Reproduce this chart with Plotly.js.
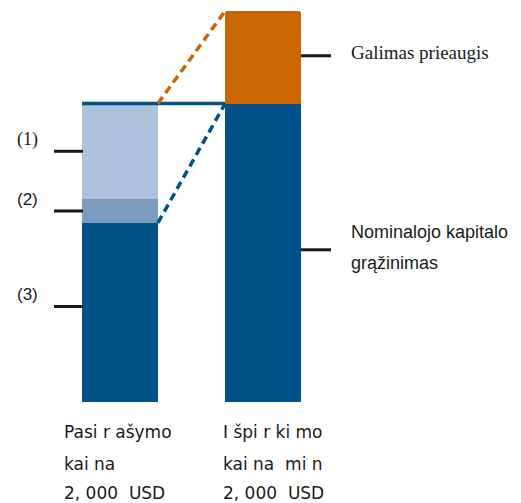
<!DOCTYPE html>
<html>
<head>
<meta charset="utf-8">
<script src="https://cdn.plot.ly/plotly-3.0.1.min.js"></script>
<style>html,body{margin:0;padding:0;background:#fff;}#chart{width:521px;height:503px;}</style>
</head>
<body>
<div id="chart"></div>
<script>
// Bars: index 0 = left (Pasirašymo kaina), index 1 = right (Išpirkimo kaina)
const barPos = [0, 1];
const nominal = [60, 100];   // (3) / Nominalojo kapitalo grąžinimas
const part2 = [8, 0];        // (2)
const part1 = [32, 0];       // (1)
const upside = [0, 31];      // Galimas prieaugis
const leftLabels = ['(1)', '(2)', '(3)'];
const leftLabelY = [84, 64, 32];
const rightLabels = ['Galimas prieaugis', 'Nominalojo kapitalo', 'grąžinimas'];
const bottomLeft = ['Pasi r ašymo', 'kai na', '2, 000  USD'];
const bottomRight = ['I špi r ki mo', 'kai na  mi n', '2, 000  USD'];

const DARK = '#02528A', MID = '#7B9CBE', LIGHT = '#ADC3D9', ORANGE = '#CC6600';
const W = 0.53;
const half = W / 2;
const leftTop = nominal[0] + part2[0] + part1[0];
const rightTop = nominal[1] + upside[1];

const traces = [
  {type: 'bar', x: barPos, y: nominal, width: W, marker: {color: DARK, line: {width: 0}}, hoverinfo: 'skip'},
  {type: 'bar', x: barPos, y: part2, width: W, marker: {color: MID, line: {width: 0}}, hoverinfo: 'skip'},
  {type: 'bar', x: barPos, y: part1, width: W, marker: {color: LIGHT, line: {width: 0}}, hoverinfo: 'skip'},
  {type: 'bar', x: barPos, y: upside, width: W, marker: {color: ORANGE, line: {width: 0}}, hoverinfo: 'skip'},
  // solid top line
  {type: 'scatter', mode: 'lines', x: [barPos[0] - half, barPos[1] - half], y: [leftTop, nominal[1]],
   line: {color: DARK, width: 3.5}, hoverinfo: 'skip'},
  // orange dashed
  {type: 'scatter', mode: 'lines', x: [barPos[0] + half, barPos[1] - half], y: [leftTop, rightTop],
   line: {color: ORANGE, width: 3.5, dash: '8px,5px'}, hoverinfo: 'skip'},
  // blue dashed
  {type: 'scatter', mode: 'lines', x: [barPos[0] + half, barPos[1] - half], y: [nominal[0], nominal[1]],
   line: {color: DARK, width: 3.5, dash: '8px,5px'}, hoverinfo: 'skip'}
];

const pxToX = px => (px - 120) / 143;
const annotations = [];
const shapes = [];
const leftFonts = ['Liberation Serif', 'Liberation Sans', 'Liberation Sans'];
const leftSizes = [18, 17, 17];
leftLabels.forEach((t, i) => {
  annotations.push({text: t, x: pxToX(15), y: leftLabelY[i] + 4, xref: 'x', yref: 'y', xanchor: 'left', yanchor: 'middle',
    showarrow: false, font: {family: leftFonts[i], size: leftSizes[i], color: '#1a1a1a'}});
  shapes.push({type: 'line', xref: 'x', yref: 'y', x0: pxToX(54), x1: pxToX(83), y0: leftLabelY[i], y1: leftLabelY[i],
    line: {color: '#1a1a1a', width: 3}});
});
const rightTickY = [116, 51];
rightTickY.forEach(v => {
  shapes.push({type: 'line', xref: 'x', yref: 'y', x0: pxToX(301), x1: pxToX(331), y0: v, y1: v,
    line: {color: '#1a1a1a', width: 3}});
});
annotations.push({text: rightLabels[0], x: pxToX(349), y: 117, xref: 'x', yref: 'y', xanchor: 'left', yanchor: 'middle',
  showarrow: false, font: {family: 'Liberation Serif', size: 19, color: '#1a1a1a'}});
annotations.push({text: rightLabels[1], x: pxToX(349), y: 57, xref: 'x', yref: 'y', xanchor: 'left', yanchor: 'middle',
  showarrow: false, font: {family: 'Liberation Sans', size: 18, color: '#1a1a1a'}});
annotations.push({text: rightLabels[2], x: pxToX(349), y: 46.5, xref: 'x', yref: 'y', xanchor: 'left', yanchor: 'middle',
  showarrow: false, font: {family: 'Liberation Sans', size: 18, color: '#1a1a1a'}});

const bottomY = [432, 464, 493];
bottomLeft.forEach((t, i) => {
  annotations.push({text: t, x: pxToX(63), y: 1 - bottomY[i] / 503, xref: 'x', yref: 'paper', xanchor: 'left', yanchor: 'middle',
    showarrow: false, font: {family: 'DejaVu Sans', size: 17, color: '#1a1a1a'}, borderpad: 0});
});
bottomRight.forEach((t, i) => {
  annotations.push({text: t, x: pxToX(222), y: 1 - bottomY[i] / 503, xref: 'x', yref: 'paper', xanchor: 'left', yanchor: 'middle',
    showarrow: false, font: {family: 'DejaVu Sans', size: 17, color: '#1a1a1a'}, borderpad: 0});
});

const layout = {
  width: 521, height: 503,
  margin: {l: 0, r: 0, t: 11, b: 101, pad: 0},
  paper_bgcolor: '#fff', plot_bgcolor: '#fff',
  barmode: 'stack',
  barcornerradius: 3,
  showlegend: false,
  xaxis: {range: [pxToX(0), pxToX(521)], visible: false, fixedrange: true},
  yaxis: {range: [0, rightTop], visible: false, fixedrange: true},
  annotations: annotations,
  shapes: shapes
};
// paper y for bottom labels: convert desired pixel row into paper fraction of plot area
const plotH = 503 - 11 - 101;
layout.annotations.forEach(a => {
  if (a.yref === 'paper') {
    const px = (1 - a.y) * 503;
    a.y = (503 - 101 - px) / plotH;
  }
});
Plotly.newPlot('chart', traces, layout, {displayModeBar: false, staticPlot: true});
</script>
</body>
</html>
